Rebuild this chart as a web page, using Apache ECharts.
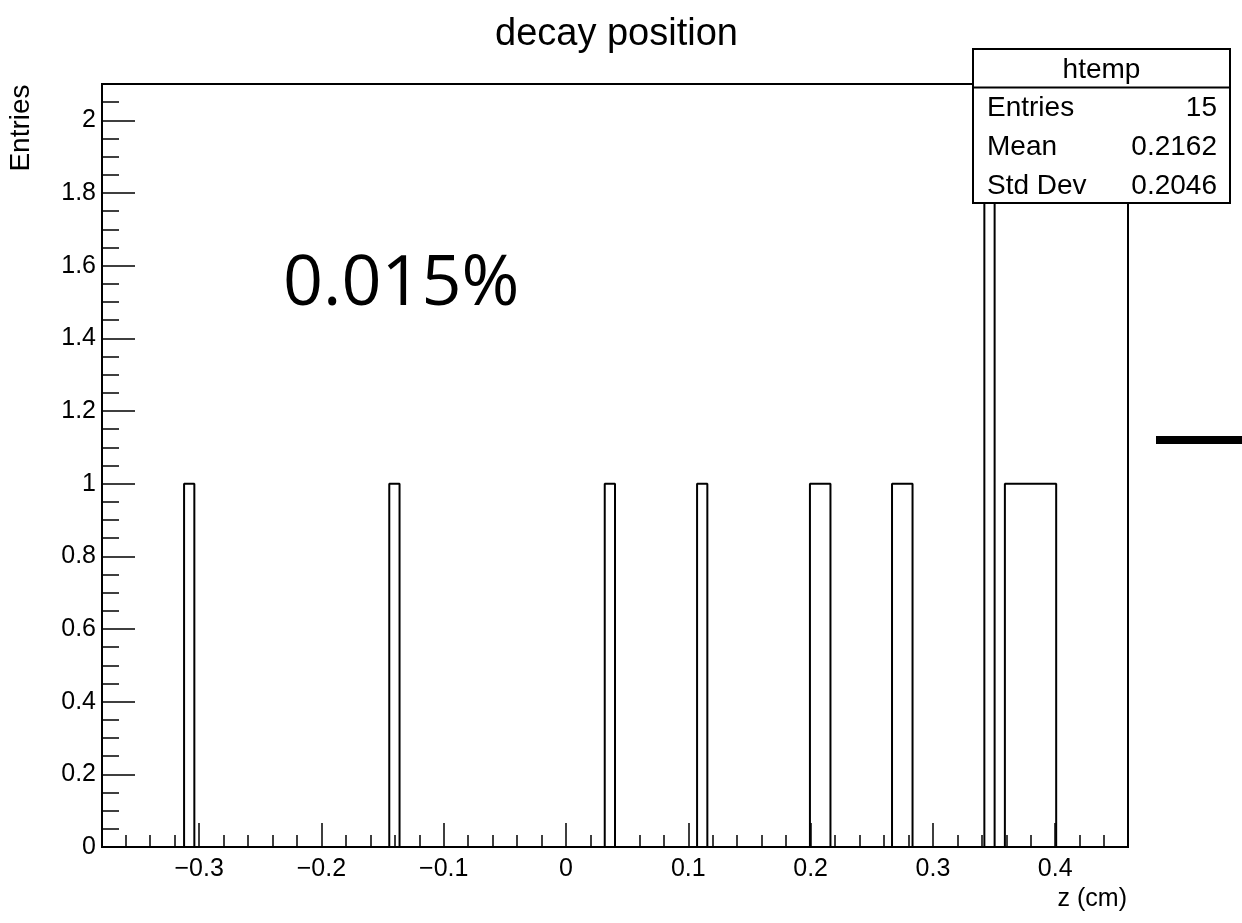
<!DOCTYPE html>
<html>
<head>
<meta charset="utf-8">
<title>decay position</title>
<script src="https://cdn.jsdelivr.net/npm/echarts@6/dist/echarts.min.js"></script>
<style>
  html, body { margin: 0; padding: 0; background: #fff; }
  #main { width: 1242px; height: 923px; }
</style>
</head>
<body>
<div id="main"></div>
<script>
// histogram binning (htemp, 100 bins)
var nBins = 100;
var zMin = -0.3794;
var zMax = 0.4595;

// filled bins: index and entries
var binIndex = [8, 28, 49, 58, 69, 70, 77, 78, 86, 88, 89, 90, 91, 92];
var binCount = [1, 1, 1, 1, 1, 1, 1, 1, 2, 1, 1, 1, 1, 1];

// axis ticks
var xMajor = [-0.3, -0.2, -0.1, 0, 0.1, 0.2, 0.3, 0.4];
var yMajor = [0, 0.2, 0.4, 0.6, 0.8, 1, 1.2, 1.4, 1.6, 1.8, 2];
var yMax = 2.1;

// stats box
var statNames = ["Entries", "Mean", "Std Dev"];
var statValues = ["15", "0.2162", "0.2046"];

var FONT = "Liberation Sans, Arial, Helvetica, sans-serif";

var xMinor = [];
for (var i = -19; i <= 23; i++) {
  if (i % 5 !== 0) xMinor.push(Math.round(i * 0.02 * 1000) / 1000);
}
var yMinor = [];
for (var j = 0; j <= 42; j++) {
  if (j % 4 !== 0) yMinor.push(Math.round(j * 0.05 * 1000) / 1000);
}

// step outline of the histogram
var binW = (zMax - zMin) / nBins;
var counts = [];
for (var k = 0; k < nBins; k++) counts.push(0);
binIndex.forEach(function (b, n) { counts[b] = binCount[n]; });
var histData = counts.map(function (c, n) { return [zMin + n * binW, c]; });
histData.push([zMax, 0]);

var chart = echarts.init(document.getElementById("main"));

// stats box children, each with its own z so it sits over the histogram
var statBox = [
  {
    type: "rect", z: 100,
    shape: { x: 973, y: 49, width: 257, height: 154 },
    style: { fill: "#fff", stroke: "#000", lineWidth: 2 }
  },
  {
    type: "line", z: 101,
    shape: { x1: 973, y1: 87.5, x2: 1230, y2: 87.5 },
    style: { stroke: "#000", lineWidth: 2 }
  },
  {
    type: "text", x: 1101.5, y: 70, z: 101,
    style: { text: "htemp", font: "28px " + FONT, fill: "#000", align: "center", verticalAlign: "middle" }
  }
];
statNames.forEach(function (name, n) {
  var y = 108 + n * 39;
  statBox.push({
    type: "text", x: 987, y: y, z: 101,
    style: { text: name, font: "28px " + FONT, fill: "#000", verticalAlign: "middle" }
  });
  statBox.push({
    type: "text", x: 1217, y: y, z: 101,
    style: { text: statValues[n], font: "28px " + FONT, fill: "#000", align: "right", verticalAlign: "middle" }
  });
});

var option = {
  animation: false,
  backgroundColor: "#fff",
  title: {
    text: "decay position",
    left: 490,
    top: 11,
    textStyle: { fontFamily: FONT, fontSize: 38, fontWeight: "normal", color: "#000" }
  },
  grid: {
    left: 102, right: 114, top: 84, bottom: 76,
    show: true, borderColor: "#000", borderWidth: 2, backgroundColor: "transparent"
  },
  xAxis: [
    {
      type: "value", min: zMin, max: zMax, position: "bottom",
      axisLine: { show: true, onZero: false, lineStyle: { color: "#000", width: 2 } },
      axisTick: { show: true, inside: true, length: 24, customValues: xMajor, lineStyle: { color: "#000", width: 1.5 } },
      axisLabel: {
        customValues: xMajor, margin: 10, color: "#000", fontFamily: FONT, fontSize: 25,
        formatter: function (v) { return v < 0 ? "\u2212" + (-v) : String(v); }
      },
      splitLine: { show: false }
    },
    {
      type: "value", min: zMin, max: zMax, position: "bottom",
      axisLine: { show: false, onZero: false },
      axisTick: { show: true, inside: true, length: 12, customValues: xMinor, lineStyle: { color: "#000", width: 1.5 } },
      axisLabel: { show: false },
      splitLine: { show: false }
    }
  ],
  yAxis: [
    {
      type: "value", min: 0, max: yMax, position: "left",
      axisLine: { show: true, onZero: false, lineStyle: { color: "#000", width: 2 } },
      axisTick: { show: true, inside: true, length: 33, customValues: yMajor, lineStyle: { color: "#000", width: 1.5 } },
      axisLabel: { customValues: yMajor, margin: 6, color: "#000", fontFamily: FONT, fontSize: 25 },
      splitLine: { show: false }
    },
    {
      type: "value", min: 0, max: yMax, position: "left",
      axisLine: { show: false, onZero: false },
      axisTick: { show: true, inside: true, length: 17, customValues: yMinor, lineStyle: { color: "#000", width: 1.5 } },
      axisLabel: { show: false },
      splitLine: { show: false }
    }
  ],
  series: [
    {
      name: "htemp",
      type: "line",
      step: "end",
      xAxisIndex: 0,
      yAxisIndex: 0,
      symbol: "none",
      lineStyle: { color: "#000", width: 2 },
      data: histData
    }
  ],
  graphic: [
    {
      type: "text", x: 1127, y: 899, z: 50,
      style: { text: "z (cm)", font: "25px " + FONT, fill: "#000", align: "right", verticalAlign: "middle" }
    },
    {
      type: "text", x: 21, y: 128, rotation: Math.PI / 2, z: 50,
      style: { text: "Entries", font: "28px " + FONT, fill: "#000", align: "center", verticalAlign: "middle" }
    },
    {
      type: "text", x: 283, y: 285, z: 50,
      style: { text: "0.015%", font: "70px 'Open Sans', sans-serif", fill: "#000", verticalAlign: "middle" }
    },
    {
      type: "rect", z: 50,
      shape: { x: 1156, y: 436, width: 86, height: 8 },
      style: { fill: "#000" }
    }
  ].concat(statBox)
};

chart.setOption(option);
</script>
</body>
</html>
